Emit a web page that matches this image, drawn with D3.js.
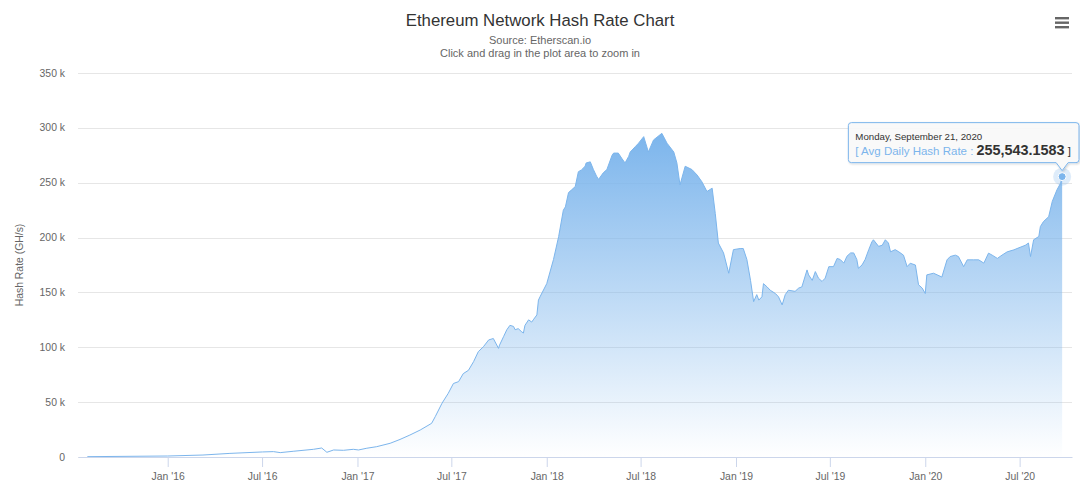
<!DOCTYPE html>
<html>
<head>
<meta charset="utf-8">
<script src="https://cdn.jsdelivr.net/npm/d3@7"></script>
<style>
  body { margin: 0; background: #fff; }
  svg { display: block; font-family: "Liberation Sans", Arial, sans-serif; }
</style>
</head>
<body>
<svg width="1080" height="494"></svg>
<script>
// Daily hash rate (GH/s)
const dates = [
  "2015-07-30", "2016-01-01", "2016-03-09", "2016-04-30", "2016-07-02", "2016-07-23",
  "2016-08-05", "2016-08-30", "2016-10-08", "2016-10-24", "2016-11-03", "2016-11-16",
  "2016-12-05", "2016-12-24", "2017-01-03", "2017-01-19", "2017-02-07", "2017-03-05",
  "2017-03-24", "2017-04-12", "2017-05-02", "2017-05-24", "2017-05-31", "2017-06-13",
  "2017-06-25", "2017-07-05", "2017-07-15", "2017-07-24", "2017-08-03", "2017-08-13",
  "2017-08-22", "2017-09-01", "2017-09-11", "2017-09-20", "2017-09-30", "2017-10-02",
  "2017-10-10", "2017-10-16", "2017-10-22", "2017-10-29", "2017-11-01", "2017-11-07",
  "2017-11-14", "2017-11-17", "2017-11-20", "2017-11-27", "2017-12-03", "2017-12-06",
  "2017-12-13", "2017-12-16", "2017-12-19", "2018-01-01", "2018-01-14", "2018-01-24",
  "2018-02-02", "2018-02-06", "2018-02-12", "2018-02-18", "2018-02-25", "2018-03-03",
  "2018-03-09", "2018-03-16", "2018-03-18", "2018-03-26", "2018-04-01", "2018-04-07",
  "2018-04-11", "2018-04-20", "2018-04-27", "2018-05-07", "2018-05-10", "2018-05-19",
  "2018-05-26", "2018-06-01", "2018-06-08", "2018-06-11", "2018-06-21", "2018-06-27",
  "2018-07-07", "2018-07-16", "2018-07-26", "2018-08-11", "2018-08-21", "2018-09-03",
  "2018-09-09", "2018-09-15", "2018-09-25", "2018-10-08", "2018-10-18", "2018-10-27",
  "2018-11-06", "2018-11-16", "2018-11-22", "2018-11-28", "2018-12-08", "2018-12-18",
  "2018-12-27", "2019-01-09", "2019-01-15", "2019-01-22", "2019-01-29", "2019-02-04",
  "2019-02-10", "2019-02-14", "2019-02-20", "2019-02-23", "2019-03-02", "2019-03-08",
  "2019-03-18", "2019-03-24", "2019-03-31", "2019-04-06", "2019-04-12", "2019-04-25",
  "2019-05-02", "2019-05-08", "2019-05-18", "2019-05-21", "2019-05-28", "2019-06-03",
  "2019-06-09", "2019-06-16", "2019-06-22", "2019-06-29", "2019-07-08", "2019-07-15",
  "2019-07-21", "2019-07-28", "2019-08-03", "2019-08-10", "2019-08-16", "2019-08-22",
  "2019-08-25", "2019-09-01", "2019-09-07", "2019-09-14", "2019-09-20", "2019-09-23",
  "2019-10-03", "2019-10-10", "2019-10-16", "2019-10-22", "2019-10-26", "2019-11-04",
  "2019-11-11", "2019-11-20", "2019-11-27", "2019-12-03", "2019-12-13", "2019-12-19",
  "2019-12-26", "2020-01-01", "2020-01-04", "2020-01-17", "2020-01-24", "2020-02-02",
  "2020-02-12", "2020-02-18", "2020-02-28", "2020-03-05", "2020-03-15", "2020-03-22",
  "2020-04-03", "2020-04-13", "2020-04-23", "2020-05-02", "2020-05-09", "2020-05-19",
  "2020-05-28", "2020-06-07", "2020-06-20", "2020-06-26", "2020-07-12", "2020-07-18",
  "2020-07-22", "2020-07-28", "2020-08-07", "2020-08-10", "2020-08-16", "2020-08-26",
  "2020-09-02", "2020-09-11", "2020-09-18", "2020-09-21"
];
const hashRates = [
  300, 900, 1800, 3300, 4600, 4900,
  4000, 5200, 7000, 8200, 4300, 6400,
  6100, 7000, 6400, 8000, 9400, 12500,
  16000, 20000, 24600, 30700, 36800, 49000,
  58000, 67000, 68700, 76000, 79000, 87000,
  96000, 100600, 106700, 108000, 99000, 102000,
  110000, 116000, 120000, 119000, 116000, 117000,
  114000, 113000, 120000, 125000, 123000, 125000,
  129500, 143000, 146000, 158000, 180000, 201000,
  225000, 228000, 241000, 243500, 246500, 260000,
  261700, 265000, 268000, 269000, 262000, 256000,
  253000, 259000, 262000, 275000, 277000, 277000,
  272000, 268000, 274000, 278000, 283000, 286000,
  292000, 278000, 289000, 295000, 286000, 278000,
  268000, 248000, 265000, 262000, 257000, 251000,
  242000, 245000, 222000, 195000, 186000, 167500,
  189000, 190000, 190000, 180000, 161000, 141600,
  148000, 143000, 146000, 158000, 155000, 152000,
  149000, 146000, 138600, 148000, 152000, 151000,
  154000, 155000, 170500, 166000, 161000, 169000,
  163000, 160000, 163000, 173500, 173500, 181000,
  180000, 176700, 183000, 186000, 186000, 180000,
  172000, 175000, 180000, 189000, 196000, 198000,
  192000, 193000, 198000, 195000, 187000, 189000,
  187000, 184000, 173500, 176600, 175000, 157000,
  154000, 149000, 166000, 167500, 166000, 164000,
  179700, 182700, 184000, 182700, 173500, 179700,
  179700, 179700, 176700, 185800, 184000, 181000,
  184000, 187000, 188800, 190000, 193000, 195000,
  182700, 198000, 201000, 210000, 214600, 219000,
  233000, 243500, 249600, 255543.1583
];
const xDomain = ["2015-07-12", "2020-10-10"];
const yTicks = [0, 50000, 100000, 150000, 200000, 250000, 300000, 350000];

const titleText = "Ethereum Network Hash Rate Chart";
const subtitleLines = ["Source: Etherscan.io", "Click and drag in the plot area to zoom in"];
const yAxisTitle = "Hash Rate (GH/s)";
const seriesName = "Avg Daily Hash Rate";

const color = "#7cb5ec";
const svg = d3.select("svg");
const W = 1080;
const plot = {left: 78, right: 1072, top: 73, bottom: 457};

const parse = d3.timeParse("%Y-%m-%d");
const data = dates.map((d, i) => ({date: parse(d), value: hashRates[i]}));

const x = d3.scaleTime()
    .domain(xDomain.map(parse))
    .range([plot.left, plot.right]);
const y = d3.scaleLinear()
    .domain([0, 350000])
    .range([plot.bottom, plot.top]);

// gradient fill under the line
const defs = svg.append("defs");
const grad = defs.append("linearGradient")
    .attr("id", "fillGrad")
    .attr("x1", 0).attr("y1", 0).attr("x2", 0).attr("y2", 1);
grad.append("stop").attr("offset", 0).attr("stop-color", color).attr("stop-opacity", 1);
grad.append("stop").attr("offset", 1).attr("stop-color", color).attr("stop-opacity", 0);

const shadow = defs.append("filter").attr("id", "tipShadow")
    .attr("x", "-10%").attr("y", "-20%").attr("width", "130%").attr("height", "160%");
shadow.append("feDropShadow")
    .attr("dx", 1).attr("dy", 1).attr("stdDeviation", 1.2)
    .attr("flood-color", "#000").attr("flood-opacity", 0.18);

// title + subtitle
svg.append("text")
    .attr("x", W / 2).attr("y", 26)
    .attr("text-anchor", "middle")
    .style("font-size", "16.8px").style("fill", "#333")
    .text(titleText);
svg.selectAll(".subtitle")
    .data(subtitleLines)
    .enter().append("text")
    .attr("class", "subtitle")
    .attr("x", W / 2)
    .attr("y", (d, i) => 44 + i * 13)
    .attr("text-anchor", "middle")
    .style("font-size", "11px").style("fill", "#666")
    .text(d => d);

// horizontal grid
svg.append("g")
    .selectAll("line")
    .data(yTicks)
    .enter().append("line")
    .attr("x1", plot.left).attr("x2", plot.right)
    .attr("y1", d => Math.round(y(d)) + 0.5)
    .attr("y2", d => Math.round(y(d)) + 0.5)
    .attr("stroke", "#e6e6e6");

// y labels
svg.append("g")
    .selectAll("text")
    .data(yTicks)
    .enter().append("text")
    .attr("x", 65)
    .attr("y", d => y(d) + 3.5)
    .attr("text-anchor", "end")
    .style("font-size", "10.4px").style("fill", "#666")
    .text(d => d === 0 ? "0" : (d / 1000) + " k");

svg.append("text")
    .attr("transform", `translate(23,${(plot.top + plot.bottom) / 2}) rotate(-90)`)
    .attr("text-anchor", "middle")
    .style("font-size", "10.4px").style("fill", "#666")
    .text(yAxisTitle);

// area + line
const area = d3.area()
    .x(d => x(d.date))
    .y0(y(0))
    .y1(d => y(d.value));
const line = d3.line()
    .x(d => x(d.date))
    .y(d => y(d.value));

svg.append("path")
    .datum(data)
    .attr("d", area)
    .attr("fill", "url(#fillGrad)");
svg.append("path")
    .datum(data)
    .attr("d", line)
    .attr("fill", "none")
    .attr("stroke", color)
    .attr("stroke-width", 1)
    .attr("stroke-linejoin", "round");

// x axis
const xAxis = d3.axisBottom(x)
    .ticks(d3.timeMonth.every(6))
    .tickFormat(d3.timeFormat("%b '%y"))
    .tickSize(10)
    .tickSizeOuter(0)
    .tickPadding(6);
const gx = svg.append("g")
    .attr("transform", `translate(0,${plot.bottom})`)
    .call(xAxis);
gx.select(".domain").attr("stroke", "#ccd6eb");
gx.selectAll(".tick line").attr("stroke", "#ccd6eb");
gx.selectAll(".tick text")
    .style("font-size", "10.4px").style("fill", "#666")
    .style("font-family", "\"Liberation Sans\", Arial, sans-serif");

// hover marker on last point
const last = data[data.length - 1];
const px = x(last.date), py = y(last.value);
svg.append("circle").attr("cx", px).attr("cy", py).attr("r", 9)
    .attr("fill", color).attr("fill-opacity", 0.25);
svg.append("circle").attr("cx", px).attr("cy", py).attr("r", 4)
    .attr("fill", color).attr("stroke", "#fff").attr("stroke-width", 1);

// tooltip
const tip = svg.append("g");
const tipBox = tip.append("path");
const header = tip.append("text")
    .style("font-size", "9.7px").style("fill", "#333")
    .text(d3.timeFormat("%A, %B %-d, %Y")(last.date));
const body = tip.append("text").style("font-size", "11.5px");
body.append("tspan").style("fill", color).text("[ " + seriesName + " : ");
body.append("tspan").style("fill", "#333").style("font-weight", "bold").style("font-size", "14.4px")
    .text(d3.format(",.4f")(last.value));
body.append("tspan").style("fill", "#333").text(" ]");

const textW = Math.max(header.node().getComputedTextLength(), body.node().getComputedTextLength());
const boxW = textW + 15, boxH = 40;
const bx = W - 1 - boxW, by = py - 54;
header.attr("x", bx + 7).attr("y", by + 17);
body.attr("x", bx + 7).attr("y", by + 32);
const r = 3, ax = px, bb = by + boxH;
tipBox.attr("d", `M${bx + r},${by} H${bx + boxW - r} Q${bx + boxW},${by} ${bx + boxW},${by + r}
    V${bb - r} Q${bx + boxW},${bb} ${bx + boxW - r},${bb}
    H${ax + 6} L${ax},${bb + 8} L${ax - 6},${bb}
    H${bx + r} Q${bx},${bb} ${bx},${bb - r} V${by + r} Q${bx},${by} ${bx + r},${by} Z`)
    .attr("fill", "rgba(250,250,250,0.92)")
    .attr("stroke", color)
    .attr("stroke-width", 1)
    .attr("filter", "url(#tipShadow)");

// export menu icon
svg.append("g")
    .selectAll("rect")
    .data([0, 1, 2])
    .enter().append("rect")
    .attr("x", 1055).attr("y", d => 17 + d * 4.5)
    .attr("width", 14).attr("height", 2.4)
    .attr("fill", "#666");
</script>
</body>
</html>
